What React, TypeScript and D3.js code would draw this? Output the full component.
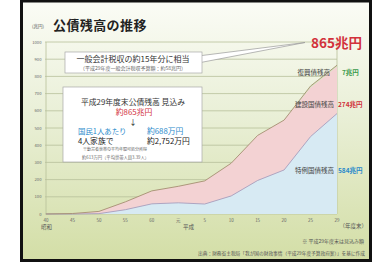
import React from "react";
import * as d3 from "d3";

// 年度ラベル（昭和40年度〜平成29年度）
const years = ["40", "45", "50", "55", "60", "元", "5", "10", "15", "20", "25", "29"];
// 特例国債残高（兆円）
const tokurei = [0, 0, 2.1, 25, 59, 65, 58, 105, 195, 256, 450, 584];
// 建設国債残高（兆円）
const kensetsu = [0.2, 2.8, 12.9, 45.5, 75.4, 95.9, 134.5, 190.2, 261.9, 289.9, 284.9, 274];
// 復興債残高（兆円）
const fukkou = [0, 0, 0, 0, 0, 0, 0, 0, 0, 0, 9, 7];
// 公債残高合計
const total = [0.2, 2.8, 15.0, 70.5, 134.4, 160.9, 192.5, 295.2, 456.9, 545.9, 743.9, 865];
const yTicks = [0, 100, 200, 300, 400, 500, 600, 700, 800, 900, 1000];

const keys = ["tokurei", "kensetsu", "fukkou"];
const fills: Record<string, string> = {
    tokurei: "#d7eaf3",
    kensetsu: "#f3d2d3",
    fukkou: "#cfe3b8",
};

const FONT = "'Noto Sans CJK JP', 'Noto Sans', sans-serif";

export default function App() {
    const x = d3.scalePoint<string>().domain(years).range([46, 337]);
    const y = d3.scaleLinear().domain([0, 1000]).range([214, 42]);

    const rows = years.map((yr, i) => ({
        year: yr,
        tokurei: tokurei[i],
        kensetsu: kensetsu[i],
        fukkou: fukkou[i],
    }));
    const series = d3.stack<any>().keys(keys)(rows);

    const area = d3.area<any>()
        .x(d => x(d.data.year) || 0)
        .y0(d => y(d[0]))
        .y1(d => y(d[1]));

    const line = d3.line<number>()
        .x((_, i) => x(years[i]) || 0)
        .y(d => y(d));

    return (
        <svg width={374} height={271} style={{ position: "absolute", left: 0, top: 0, fontFamily: FONT }}>
            <defs>
                <linearGradient id="bg" x1="0" y1="0" x2="0" y2="1">
                    <stop offset="0%" stopColor="#fbfcf6" />
                    <stop offset="45%" stopColor="#e9efd6" />
                    <stop offset="100%" stopColor="#d3dea6" />
                </linearGradient>
            </defs>
            <rect x={0} y={0} width={374} height={271} fill="#fff" />
            <rect x={21.5} y={1} width={349} height={259.5} fill="url(#bg)" stroke="#111" strokeWidth={3} />

            {/* タイトル */}
            <text x={32} y={28} fontSize={4.5} fill="#555">(兆円)</text>
            <text x={53} y={30} fontSize={13} fontWeight="bold" fill="#222" letterSpacing={0.4}>公債残高の推移</text>

            {/* グリッド */}
            {yTicks.map(t => (
                <g key={t}>
                    <line x1={45} x2={337} y1={y(t)} y2={y(t)} stroke="#b7c09a" strokeWidth={0.8} />
                    <text x={41.5} y={y(t) + 1.5} fontSize={4.2} textAnchor="end" fill="#666">{t}</text>
                </g>
            ))}
            <line x1={46} x2={46} y1={42} y2={214} stroke="#b7c09a" strokeWidth={0.8} />
            <line x1={337} x2={337} y1={42} y2={214} stroke="#b7c09a" strokeWidth={0.8} />

            {/* 積み上げ面 */}
            {series.map(s => (
                <path key={s.key} d={area(s) || ""} fill={fills[s.key]} />
            ))}
            <path d={line(tokurei) || ""} fill="none" stroke="#a79ec0" strokeWidth={0.9} />
            <path d={line(total) || ""} fill="none" stroke="#a58f72" strokeWidth={0.9} />

            {/* X軸ラベル */}
            {years.map(yr => (
                <text key={yr} x={x(yr) || 0} y={222} fontSize={4.5} textAnchor="middle" fill="#666">{yr}</text>
            ))}
            <text x={41} y={229} fontSize={5.5} fill="#555">昭和</text>
            <text x={183} y={229} fontSize={5.5} fill="#555">平成</text>
            <text x={367} y={228} fontSize={5.5} textAnchor="end" fill="#555">（年度末）</text>

            {/* 系列ラベル */}
            <text x={330} y={74.5} fontSize={6.5} textAnchor="end" fill="#444">復興債残高</text>
            <text x={342} y={74.5} fontSize={6.5} fontWeight="bold" fill="#3a9a4a">7兆円</text>
            <text x={334} y={106.5} fontSize={6.5} textAnchor="end" fill="#444">建設国債残高</text>
            <text x={338} y={106.5} fontSize={6.5} fontWeight="bold" fill="#d0303a">274兆円</text>
            <text x={334} y={172.5} fontSize={6.5} textAnchor="end" fill="#444">特例国債残高</text>
            <text x={338} y={172.5} fontSize={6.5} fontWeight="bold" fill="#2a8acb">584兆円</text>

            {/* 吹き出し1 */}
            <polygon points="198,56 305,42.5 198,63" fill="#fff" stroke="#9a9a9a" strokeWidth={0.7} />
            <rect x={65} y={52} width={137} height={21} fill="#fff" stroke="#a8a8a8" strokeWidth={0.7} />
            <text x={133} y={62} fontSize={8} textAnchor="middle" fill="#333">一般会計税収の約15年分に相当</text>
            <text x={133} y={70} fontSize={5} textAnchor="middle" fill="#666">（平成29年度一般会計税収予算額：約58兆円）</text>
            <text x={362} y={47.5} fontSize={13.5} fontWeight="bold" textAnchor="end" fill="#d2323c">865兆円</text>

            {/* 吹き出し2 */}
            <rect x={63} y={87} width={139} height={75} fill="#fff" stroke="#a8a8a8" strokeWidth={0.7} />
            <text x={133} y={104.5} fontSize={7.8} textAnchor="middle" fill="#333">平成29年度末公債残高 見込み</text>
            <text x={134} y={114.5} fontSize={7.8} textAnchor="middle" fill="#d2323c">約865兆円</text>
            <text x={133} y={124.5} fontSize={7.5} textAnchor="middle" fill="#222">↓</text>
            <text x={78} y={134} fontSize={7.4} fill="#2a8acb">国民1人あたり</text>
            <text x={147} y={134} fontSize={7.8} fill="#2a8acb">約688万円</text>
            <text x={78} y={143.5} fontSize={7.8} fill="#222">4人家族で</text>
            <text x={147} y={143.5} fontSize={7.8} fill="#222">約2,752万円</text>
            <text x={83} y={151} fontSize={4} fill="#666">※勤労者世帯の平均年間可処分所得</text>
            <text x={82} y={158.5} fontSize={4.3} fill="#666">約613万円（平均世帯人員3.39人）</text>

            {/* 注記 */}
            <text x={364} y={242.5} fontSize={5} textAnchor="end" fill="#555">※ 平成29年度末は見込み額</text>
            <text x={365} y={255} fontSize={4.7} textAnchor="end" fill="#555">出典：財務省主税局「我が国の財政事情（平成29年度予算政府案）」を基に作成</text>
        </svg>
    );
}
